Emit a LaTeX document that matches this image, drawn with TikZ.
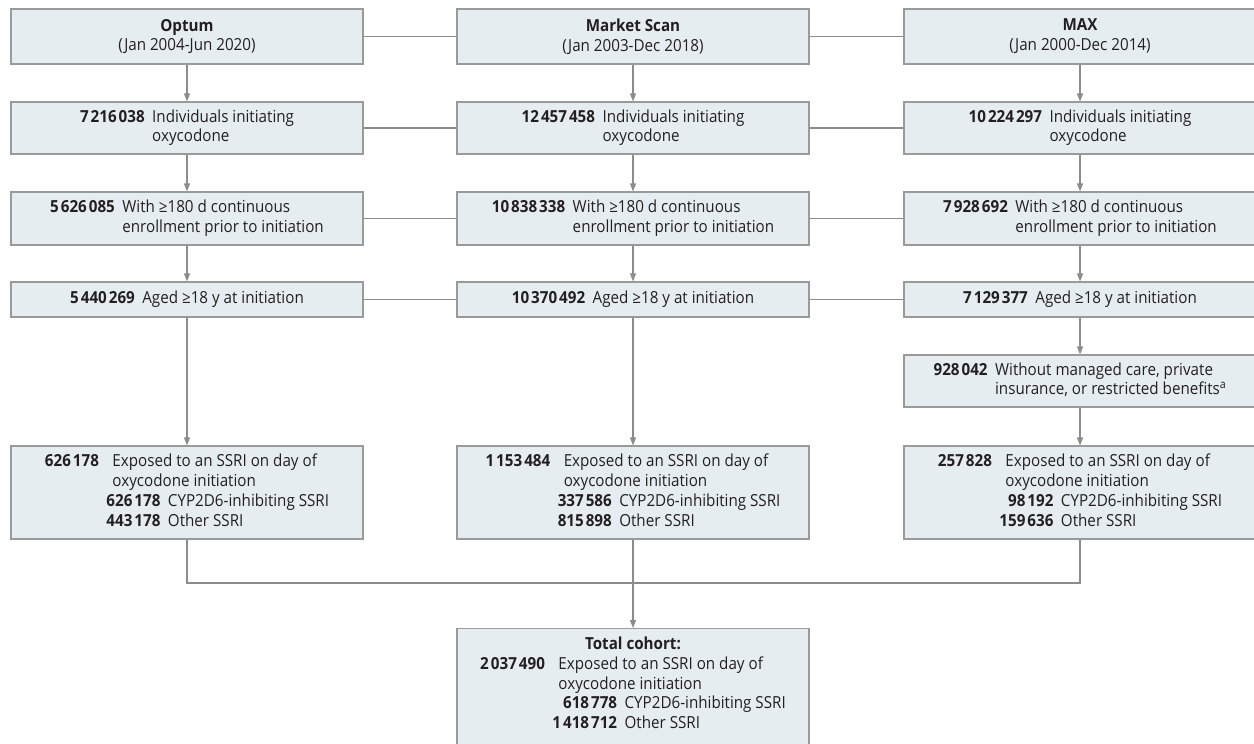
\documentclass[tikz,border=0pt]{standalone}
\usepackage{fontspec}
\setmainfont{Open Sans}[FakeStretch=0.915]
\usetikzlibrary{arrows.meta}
\definecolor{boxfill}{HTML}{E6EDF1}
\definecolor{boxline}{HTML}{9A9A9A}
\definecolor{connc}{HTML}{8C8C8C}
\definecolor{txt}{HTML}{231F20}
\newcommand{\gs}{\kern2pt}
\newcommand{\rowtwo}[3]{\begin{tabular}{@{}r@{\hspace{7.5pt}}l@{}}\textbf{#1} & #2\\ & #3\end{tabular}}
\newcommand{\rowone}[2]{\textbf{#1}\hspace{7.5pt}#2}
\newcommand{\ssrirows}[3]{\textbf{#1} & \multicolumn{2}{l@{}}{Exposed to an SSRI on day of}\\
 & \multicolumn{2}{l@{}}{oxycodone initiation}\\
 & \textbf{#2} & CYP2D6-inhibiting SSRI\\
 & \textbf{#3} & Other SSRI}
\newcommand{\ssri}[3]{\begin{tabular}{@{}r@{\hspace{7.5pt}}r@{\hspace{7.5pt}}l@{}}\ssrirows{#1}{#2}{#3}\end{tabular}}
\begin{document}
\begin{tikzpicture}[x=1pt,y=-1pt,font=\fontsize{16.6}{19.8}\selectfont,
  box/.style={draw=boxline, fill=boxfill, line width=1.1pt, minimum width=352pt,
    inner sep=0pt, align=center, text=txt},
  conn/.style={draw=connc, line width=1.1pt},
  arr/.style={conn, -{Triangle[length=8pt,width=6pt]}}]
\useasboundingbox (0,0) rectangle (1254,744);
% row 1
\node[box, minimum height=55pt] (L1) at (187,36.5) {\textbf{Optum}\\(Jan 2004-Jun 2020)};
\node[box, minimum height=55pt] (M1) at (633,36.5) {\textbf{Market Scan}\\(Jan 2003-Dec 2018)};
\node[box, minimum height=55pt] (R1) at (1080,36.5) {\textbf{MAX}\\(Jan 2000-Dec 2014)};
% row 2
\node[box, minimum height=52pt] (L2) at (187,128) {\rowtwo{7\gs216\gs038}{Individuals initiating}{oxycodone}};
\node[box, minimum height=52pt] (M2) at (633,128) {\rowtwo{12\gs457\gs458}{Individuals initiating}{oxycodone}};
\node[box, minimum height=52pt] (R2) at (1080,128) {\rowtwo{10\gs224\gs297}{Individuals initiating}{oxycodone}};
% row 3
\node[box, minimum height=53pt] (L3) at (187,218.5) {\rowtwo{5\gs626\gs085}{With ≥180 d continuous}{enrollment prior to initiation}};
\node[box, minimum height=53pt] (M3) at (633,218.5) {\rowtwo{10\gs838\gs338}{With ≥180 d continuous}{enrollment prior to initiation}};
\node[box, minimum height=53pt] (R3) at (1080,218.5) {\rowtwo{7\gs928\gs692}{With ≥180 d continuous}{enrollment prior to initiation}};
% row 4
\node[box, minimum height=35pt] (L4) at (187,299.5) {\rowone{5\gs440\gs269}{Aged ≥18 y at initiation}};
\node[box, minimum height=35pt] (M4) at (633,299.5) {\rowone{10\gs370\gs492}{Aged ≥18 y at initiation}};
\node[box, minimum height=35pt] (R4) at (1080,299.5) {\rowone{7\gs129\gs377}{Aged ≥18 y at initiation}};
% row 5
\node[box, minimum height=52pt] (R5) at (1080,381) {\rowtwo{928\gs042}{Without managed care, private}{insurance, or restricted benefits\textsuperscript{a}}};
% row 6
\node[box, minimum height=93pt] (L6) at (187,492.5) {\ssri{626\gs178}{626\gs178}{443\gs178}};
\node[box, minimum height=93pt] (M6) at (633,492.5) {\ssri{1\gs153\gs484}{337\gs586}{815\gs898}};
\node[box, minimum height=93pt] (R6) at (1080,492.5) {\ssri{257\gs828}{98\gs192}{159\gs636}};
% total
\node[box, minimum height=132pt, anchor=north] (T) at (633,628) {};
\node[anchor=north, inner sep=0pt, text=txt] (Tt) at ([yshift=-7.5pt]T.north)
 {\begin{tabular}{@{}r@{\hspace{7.5pt}}r@{\hspace{7.5pt}}l@{}}
  \multicolumn{3}{c}{\textbf{Total cohort:}}\\
  \ssrirows{2\gs037\gs490}{618\gs778}{1\gs418\gs712}
  \end{tabular}};
% horizontal links
\foreach \r in {1,2,3,4}{
  \draw[conn] (L\r) -- (M\r);
  \draw[conn] (M\r) -- (R\r);
}
% vertical arrows
\foreach \c in {L,M,R}{
  \draw[arr] (\c1) -- (\c2);
  \draw[arr] (\c2) -- (\c3);
  \draw[arr] (\c3) -- (\c4);
}
\draw[arr] (L4) -- (L6);
\draw[arr] (M4) -- (M6);
\draw[arr] (R4) -- (R5);
\draw[arr] (R5) -- (R6);
% merge
\coordinate (mg) at (633,583);
\draw[conn] (L6.south) |- (mg) -| (R6.south);
\draw[arr] (M6.south) -- (T.north);
\end{tikzpicture}
\end{document}
